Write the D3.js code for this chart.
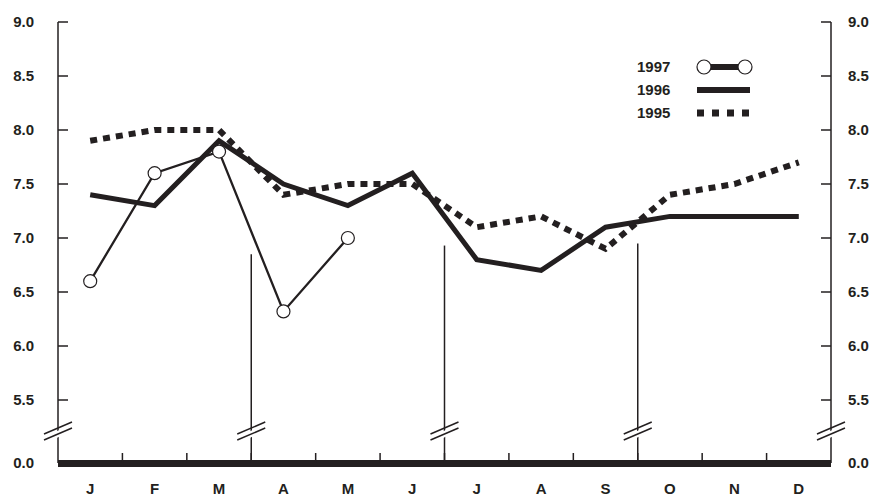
<!DOCTYPE html>
<html>
<head>
<script src="https://d3js.org/d3.v7.min.js"></script>
<style>
body { margin: 0; background: #fff; }
text { font-family: "Liberation Sans", Arial, sans-serif; font-weight: bold; font-size: 15px; fill: #231f20; }
</style>
</head>
<body>
<svg id="chart" width="880" height="496"></svg>
<script>
const months = ['J', 'F', 'M', 'A', 'M', 'J', 'J', 'A', 'S', 'O', 'N', 'D'];
const yTicks = [5.5, 6.0, 6.5, 7.0, 7.5, 8.0, 8.5, 9.0];
const s1997 = [6.6, 7.6, 7.8, 6.32, 7.0];
const s1996 = [7.4, 7.3, 7.9, 7.5, 7.3, 7.6, 6.8, 6.7, 7.1, 7.2, 7.2, 7.2];
const s1995 = [7.9, 8.0, 8.0, 7.4, 7.5, 7.5, 7.1, 7.2, 6.9, 7.4, 7.5, 7.7];
const quarterLines = [{ m: 3, top: 6.85 }, { m: 6, top: 6.93 }, { m: 9, top: 6.95 }];

const ink = '#231f20';
const svg = d3.select('#chart');
const left = 58, right = 831, base = 463, breakY = 431;
const x = d3.scaleBand().domain(d3.range(12)).range([left, right]);
const y = d3.scaleLinear().domain([5.5, 9.0]).range([400, 22]);
const cx = i => x(i) + x.bandwidth() / 2;

// axes
[left, right].forEach((ax, k) => {
    svg.append('line').attr('x1', ax).attr('x2', ax).attr('y1', y(9)).attr('y2', base)
        .attr('stroke', ink).attr('stroke-width', 1.5);
    const dir = k === 0 ? 1 : -1;
    yTicks.concat([0]).forEach(t => {
        const yy = t === 0 ? base : y(t);
        if (t !== 0) svg.append('line').attr('x1', ax).attr('x2', ax + dir * 10).attr('y1', yy).attr('y2', yy)
            .attr('stroke', ink).attr('stroke-width', 1.5);
        svg.append('text').attr('x', k === 0 ? 34 : 848).attr('y', yy + 5)
            .attr('text-anchor', k === 0 ? 'end' : 'start').text(t.toFixed(1));
    });
});

// quarter divider lines
quarterLines.forEach(q => {
    svg.append('line').attr('x1', x(q.m)).attr('x2', x(q.m)).attr('y1', y(q.top)).attr('y2', base)
        .attr('stroke', ink).attr('stroke-width', 1.5);
});

// break marks
[left, right].concat(quarterLines.map(q => x(q.m))).forEach(bx => {
    svg.append('line').attr('x1', bx - 13).attr('x2', bx + 13).attr('y1', breakY + 9).attr('y2', breakY - 3)
        .attr('stroke', '#fff').attr('stroke-width', 6);
    [-3, 3].forEach(o => svg.append('line').attr('x1', bx - 14).attr('x2', bx + 14)
        .attr('y1', breakY + 6 + o).attr('y2', breakY - 6 + o).attr('stroke', ink).attr('stroke-width', 1.5));
});

// baseline
svg.append('rect').attr('x', left).attr('y', base - 3).attr('width', right - left).attr('height', 7).attr('fill', ink);
d3.range(1, 12).forEach(i => svg.append('line').attr('x1', x(i)).attr('x2', x(i)).attr('y1', base).attr('y2', base - 10)
    .attr('stroke', ink).attr('stroke-width', 1.5));
months.forEach((m, i) => svg.append('text').attr('x', cx(i)).attr('y', 494).attr('text-anchor', 'middle').text(m));

const line = d3.line().x((d, i) => cx(i)).y(d => y(d));
svg.append('path').datum(s1995).attr('d', line).attr('fill', 'none').attr('stroke', ink)
    .attr('stroke-width', 6).attr('stroke-dasharray', '7,6');
svg.append('path').datum(s1996).attr('d', line).attr('fill', 'none').attr('stroke', ink).attr('stroke-width', 5);
svg.append('path').datum(s1997).attr('d', line).attr('fill', 'none').attr('stroke', ink).attr('stroke-width', 2.3);
svg.selectAll('.pt').data(s1997).enter().append('circle').attr('cx', (d, i) => cx(i)).attr('cy', d => y(d))
    .attr('r', 6.5).attr('fill', '#fff').attr('stroke', ink).attr('stroke-width', 1.2);

// legend
const lg = [{ n: '1997', y: 67 }, { n: '1996', y: 90 }, { n: '1995', y: 113 }];
lg.forEach(l => svg.append('text').attr('x', 637).attr('y', l.y + 5).text(l.n));
svg.append('line').attr('x1', 704).attr('x2', 745).attr('y1', 67).attr('y2', 67).attr('stroke', ink).attr('stroke-width', 6);
[704, 745].forEach(c => svg.append('circle').attr('cx', c).attr('cy', 67).attr('r', 7).attr('fill', '#fff').attr('stroke', ink).attr('stroke-width', 1.2));
svg.append('line').attr('x1', 697).attr('x2', 750).attr('y1', 90).attr('y2', 90).attr('stroke', ink).attr('stroke-width', 6);
svg.append('line').attr('x1', 697).attr('x2', 750).attr('y1', 113).attr('y2', 113).attr('stroke', ink)
    .attr('stroke-width', 7).attr('stroke-dasharray', '7,8');
</script>
</body>
</html>
